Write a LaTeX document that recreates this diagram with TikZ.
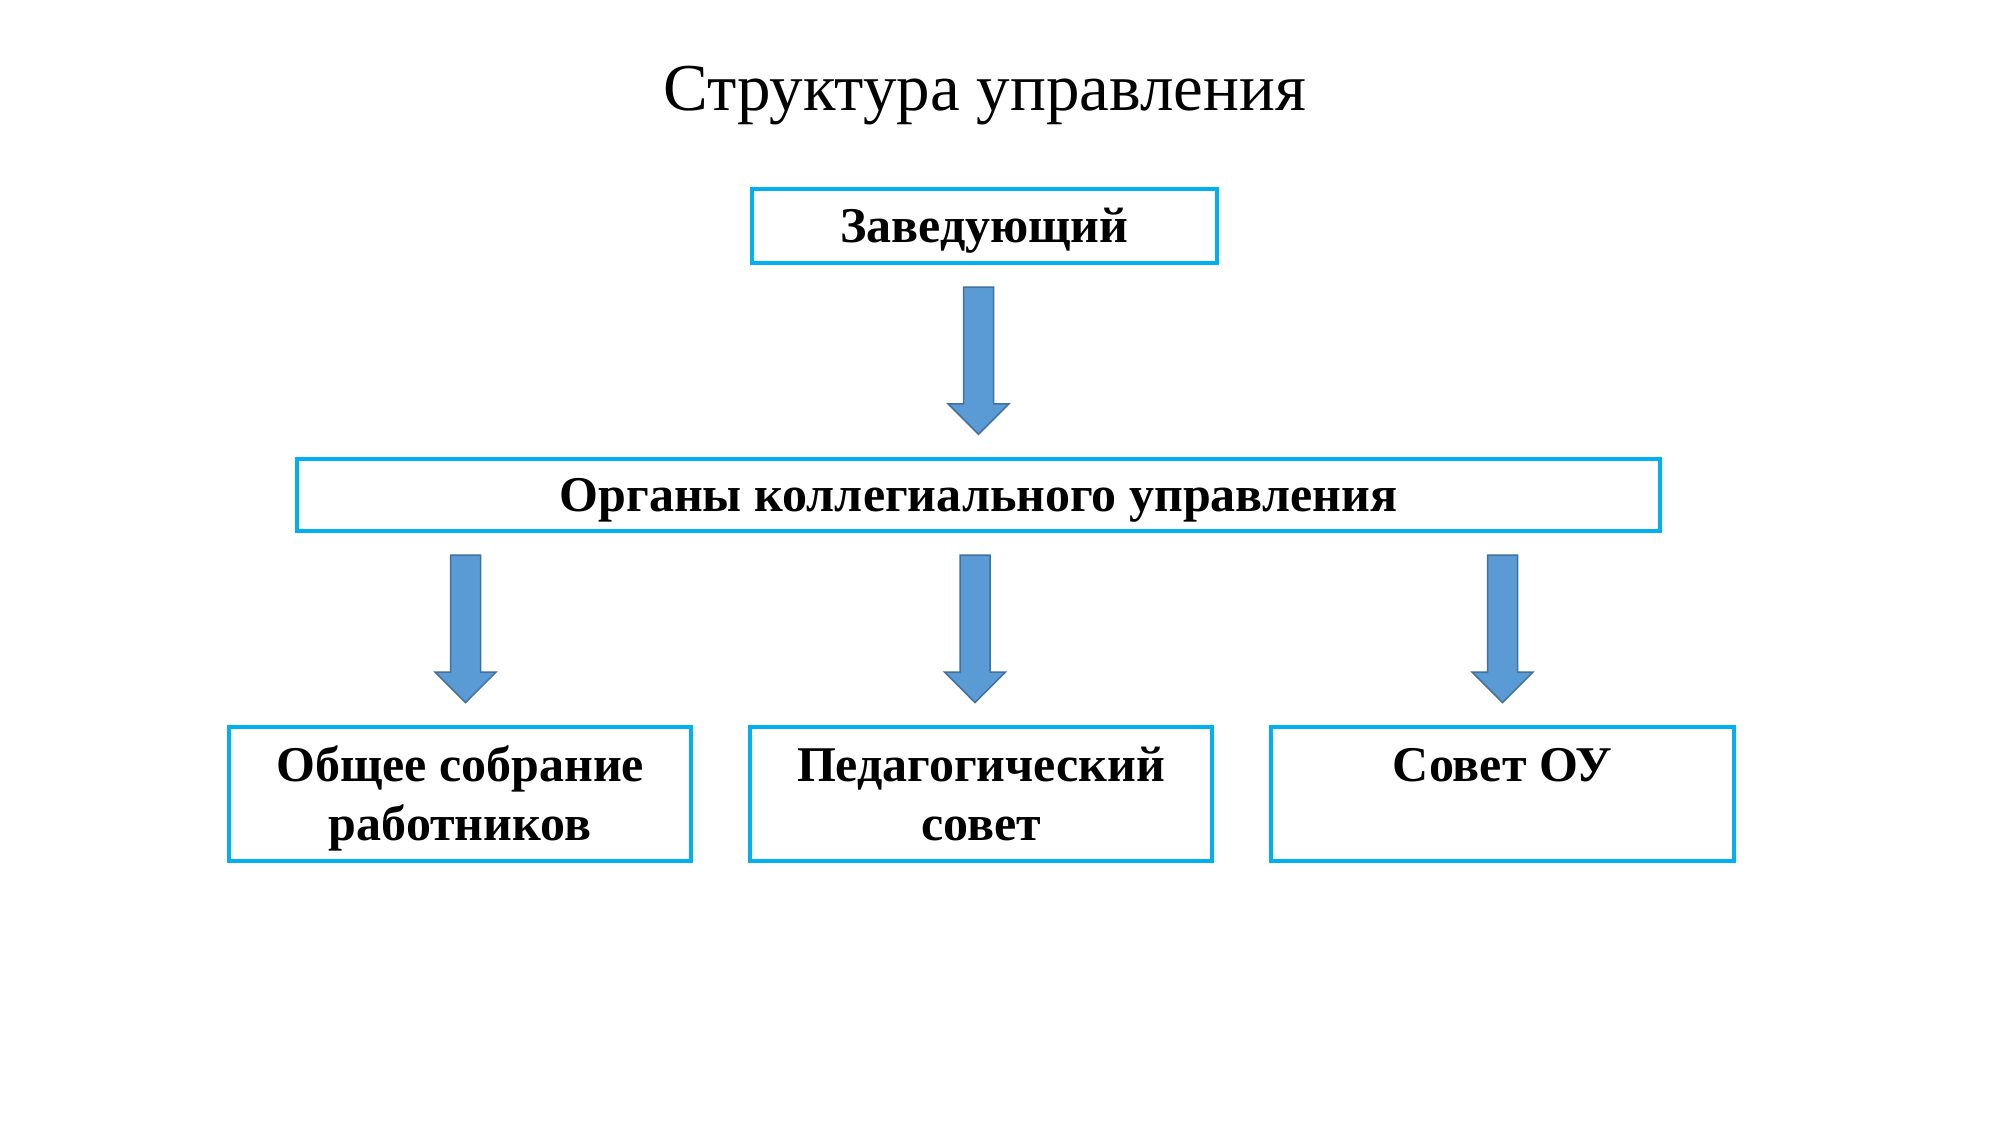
\documentclass[tikz,border=0pt]{standalone}
\usepackage{fontspec}
\setmainfont{Liberation Serif}
\usetikzlibrary{calc}
\definecolor{boxcyan}{HTML}{00B0F0}
\definecolor{arrfill}{HTML}{5B9BD5}
\definecolor{arrdraw}{HTML}{41719C}
\newcommand\firststrut{\strut\rule{0pt}{51.4pt}}
\tikzset{
  orgbox/.style={draw=boxcyan, line width=4pt, fill=white, rectangle, inner sep=0pt,
    font=\bfseries\fontsize{50}{58.3}\selectfont, align=center},
  blkarr/.style={fill=arrfill, draw=arrdraw, line width=1.5pt, line join=miter},
  titletext/.style={font=\fontsize{67}{80}\selectfont, anchor=base}
}
% #1 = x position, #2 = node above, #3 = node below
\newcommand\blkarrow[3]{%
  \draw[blkarr] let \p1=(#1,0), \p2=(#2), \p3=(#3) in
    (\x1-15pt,\y2-22pt) -- (\x1+15pt,\y2-22pt) -- (\x1+15pt,\y3+53pt) --
    (\x1+30.5pt,\y3+53pt) -- (\x1,\y3+22.5pt) -- (\x1-30.5pt,\y3+53pt) --
    (\x1-15pt,\y3+53pt) -- cycle;}
\begin{document}
\begin{tikzpicture}[x=1pt,y=-1pt]
  \useasboundingbox[fill=white] (0,0) rectangle (2000,1125);
  \node[titletext] (title) at (984.5,110) {Структура управления};
  \node[orgbox, minimum width=464.6pt, minimum height=74.3pt, text height=33pt, text depth=0pt]
    (zav) at (984.3,225.9) {Заведующий};
  \node[orgbox, minimum width=1363pt, minimum height=72.3pt, text height=33pt, text depth=0pt]
    (org) at (978.5,494.9) {Органы коллегиального управления};
  \node[orgbox, minimum width=461.5pt, minimum height=133.7pt] (b1) at (460.2,793.9)
    {\firststrut Общее собрание\\\strut работников};
  \node[orgbox, minimum width=461.5pt, minimum height=133.7pt] (b2) at (981.2,793.9)
    {\firststrut Педагогический\\\strut совет};
  \node[orgbox, minimum width=462.7pt, minimum height=133.7pt] (b3) at (1502.4,793.9)
    {\firststrut Совет ОУ\\\strut};
  \blkarrow{978.5}{zav.south}{org.north}
  \blkarrow{465.5}{org.south}{b1.north}
  \blkarrow{975}{org.south}{b2.north}
  \blkarrow{1502.6}{org.south}{b3.north}
\end{tikzpicture}
\end{document}
